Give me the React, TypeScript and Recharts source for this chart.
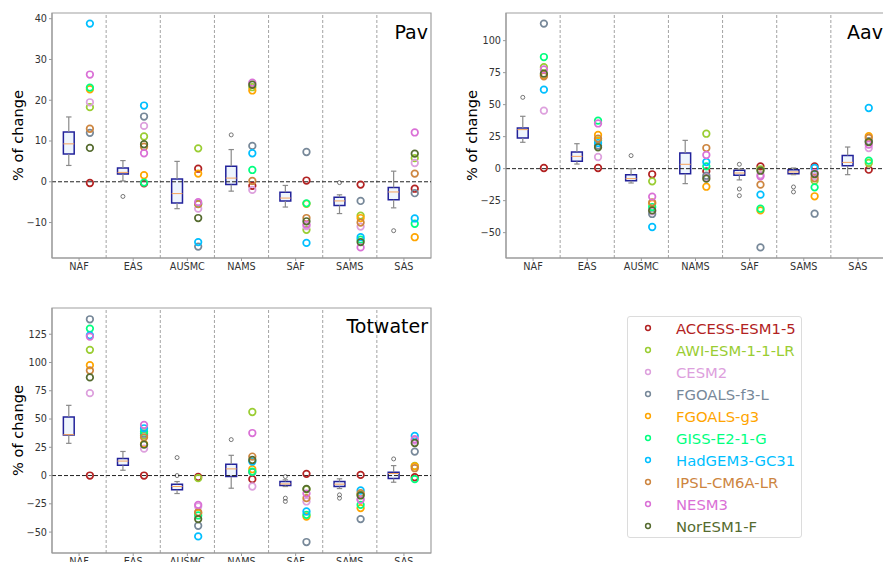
import React from 'react';
import { ComposedChart, Scatter, XAxis, YAxis, ReferenceLine, ReferenceArea, Legend } from 'recharts';

const regions = ['NAF', 'EAS', 'AUSMC', 'NAMS', 'SAF', 'SAMS', 'SAS'];
const models = [
  'ACCESS-ESM1-5', 'AWI-ESM-1-1-LR', 'CESM2', 'FGOALS-f3-L', 'FGOALS-g3',
  'GISS-E2-1-G', 'HadGEM3-GC31', 'IPSL-CM6A-LR', 'NESM3', 'NorESM1-F',
];
const modelColors = [
  '#b22222', '#9acd32', '#dda0dd', '#778899', '#ffa500',
  '#00ff7f', '#00bfff', '#cd853f', '#da70d6', '#556b2f',
];

// one row per model, one value per region
const pavValues = [
  [-0.3, -0.4, 3.2, -1.0, 0.3, -0.7, -1.7],
  [18.3, 11.1, 8.2, 23.2, -11.8, -8.3, 5.8],
  [19.5, 13.7, -6.6, -2.0, -10.9, -11.0, 4.6],
  [12.0, 16.0, -15.9, 8.8, 7.3, -4.7, -2.8],
  [22.7, 1.6, 2.0, 22.4, -5.4, -8.9, -13.6],
  [23.1, -0.2, -5.4, 2.9, -5.3, -14.2, -10.3],
  [38.8, 18.7, -14.8, 7.0, -15.0, -13.6, -9.0],
  [13.0, 8.6, -5.5, 0.2, -8.9, -10.0, 2.0],
  [26.3, 7.0, -5.0, 24.3, -10.5, -16.1, 12.1],
  [8.3, 9.2, -8.9, 23.8, -9.7, -14.8, 6.9],
];
const aavValues = [
  [0.5, 0.5, -4.4, -2.1, 1.8, 1.8, -0.8],
  [79.2, 22.0, -9.9, 27.3, -0.5, -9.4, 4.4],
  [45.3, 9.1, -33.3, -6.5, -5.0, -6.0, 16.1],
  [113.3, 18.0, -35.4, -5.5, -61.5, -35.2, 21.4],
  [73.0, 26.3, -27.3, -14.1, -32.6, -21.6, 25.3],
  [87.2, 37.5, -30.0, 1.8, -31.3, -14.6, 6.3],
  [61.7, 20.0, -45.6, 5.2, -20.3, 0.5, 47.4],
  [72.1, 23.5, -26.3, 16.1, -12.5, -7.5, 24.0],
  [77.5, 35.3, -21.9, 10.7, -6.0, -3.4, 18.8],
  [74.2, 16.7, -32.6, -7.8, -1.6, -4.2, 20.8],
];
const totValues = [
  [0.0, 0.0, -1.3, -3.2, 1.5, 0.6, -1.5],
  [111.2, 35.5, -2.3, 56.2, -12.2, -17.0, 8.5],
  [72.9, 23.8, -27.4, -9.7, -22.9, -21.0, 31.0],
  [138.2, 37.0, -44.4, 3.0, -58.8, -38.5, 21.2],
  [97.6, 28.0, -33.2, 5.6, -36.2, -28.8, 8.2],
  [130.0, 38.8, -35.3, 3.5, -34.7, -25.9, -3.2],
  [124.0, 41.8, -53.8, 12.4, -31.8, -13.2, 35.0],
  [92.9, 33.8, -32.4, 16.8, -20.0, -15.6, 6.5],
  [122.9, 44.7, -25.9, 37.6, -15.9, -21.5, 32.1],
  [86.8, 27.3, -38.5, 13.8, -11.8, -17.6, 28.8],
];

// box stats per region: [low whisker, q1, median, q3, high whisker]
const pavBoxes = [
  [4.0, 6.8, 9.3, 12.2, 15.9],
  [0.2, 1.9, 2.3, 3.4, 5.2],
  [-6.6, -5.2, -2.9, 0.7, 5.0],
  [-2.3, -0.7, 0.9, 3.8, 7.9],
  [-6.2, -4.7, -4.0, -2.6, -0.9],
  [-7.8, -5.8, -4.7, -3.8, -3.2],
  [-6.4, -4.4, -2.5, -1.4, 2.6],
];
const pavFliers = [[], [-3.6], [], [11.5], [], [-0.2], [-12.0]];

const aavBoxes = [
  [20.6, 24.0, 30.5, 31.8, 40.9],
  [3.6, 5.7, 9.6, 13.0, 19.5],
  [-11.2, -9.4, -7.8, -4.7, 0.0],
  [-11.7, -3.9, 3.4, 12.2, 22.1],
  [-8.8, -5.2, -3.4, -1.3, -0.3],
  [-4.7, -3.9, -2.6, -0.8, 0.5],
  [-4.7, 2.3, 4.9, 10.2, 16.9],
];
const aavFliers = [[55.7], [], [10.2], [], [3.4, -15.9, -21.1], [-14.3, -18.2], []];

const totBoxes = [
  [28.5, 35.9, 36.2, 51.8, 62.1],
  [4.7, 9.1, 12.8, 15.0, 21.3],
  [-15.9, -12.6, -9.7, -7.6, -5.3],
  [-11.2, -0.9, 5.9, 10.0, 17.9],
  [-9.7, -8.8, -7.4, -5.3, -3.8],
  [-11.5, -9.7, -7.6, -5.3, -2.9],
  [-5.9, -2.6, 1.8, 2.9, 8.8],
];
const totFliers = [[], [], [15.9, 0.0], [31.8], [-0.9, -20.0, -22.9], [-17.1, -20.0], [14.7]];

const pavTicks = [-10, 0, 10, 20, 30, 40];
const aavTicks = [-50, -25, 0, 25, 50, 75, 100];
const totTicks = [-50, -25, 0, 25, 50, 75, 100, 125];

const FONT = 'DejaVu Sans, sans-serif';
const BOX_X = -0.19;
const PT_X = 0.2;

const fmt = (v: number) => (v < 0 ? '\u2212' + Math.abs(v) : String(v));

const renderLegend = () => (
  <div style={{ position: 'relative', width: 175, height: 222, boxSizing: 'border-box', border: '1px solid #dcdcdc', borderRadius: 3, background: '#fff', fontFamily: FONT }}>
    {models.map((m, k) => (
      <div key={m} style={{ position: 'absolute', left: 0, top: k * 22, height: 22, display: 'flex', alignItems: 'center' }}>
        <svg width={40} height={22}>
          <circle cx={20} cy={11} r={2.4} fill="none" stroke={modelColors[k]} strokeWidth={1.5} />
        </svg>
        <span style={{ marginLeft: 8, color: modelColors[k], fontSize: 14.8, whiteSpace: 'nowrap' }}>{m}</span>
      </div>
    ))}
  </div>
);

type PanelProps = {
  values: number[][];
  boxes: number[][];
  fliers: number[][];
  domain: [number, number];
  ticks: number[];
  width: number;
  rightMargin: number;
  yWidth: number;
  labelOffset: number;
  withLegend?: boolean;
};

function Panel({ values, boxes, fliers, domain, ticks, width, rightMargin, yWidth, labelOffset, withLegend }: PanelProps) {
  const flierData = fliers.flatMap((list, i) => list.map((y) => ({ x: i + BOX_X, y })));
  return (
    <ComposedChart width={width} height={280} margin={{ top: 13, right: rightMargin, bottom: 0, left: 0 }} style={{ fontFamily: FONT }}>
      <XAxis
        type="number"
        dataKey="x"
        domain={[-0.5, 6.5]}
        ticks={[0, 1, 2, 3, 4, 5, 6]}
        interval={0}
        allowDataOverflow
        tickFormatter={(i: number) => regions[i]}
        height={22}
        tickSize={3}
        tickMargin={2}
        stroke="#999"
        tick={{ fontSize: 9.7, fill: '#333' }}
      />
      <YAxis
        type="number"
        dataKey="y"
        domain={domain}
        ticks={ticks}
        interval={0}
        allowDataOverflow
        width={yWidth}
        tickFormatter={fmt}
        tickSize={3}
        tickMargin={2}
        stroke="#999"
        tick={{ fontSize: 9.7, fill: '#333' }}
        label={{ value: '% of change', angle: -90, position: 'insideLeft', offset: labelOffset, style: { textAnchor: 'middle', fontSize: 14.6, fill: '#000' } }}
      />
      <ReferenceArea x1={-0.5} x2={6.5} y1={domain[0]} y2={domain[1]} fill="none" stroke="#a0a0a0" strokeWidth={1.2} />
      {[0.5, 1.5, 2.5, 3.5, 4.5, 5.5].map((x) => (
        <ReferenceLine key={'v' + x} x={x} stroke="#8c8c8c" strokeWidth={0.8} strokeDasharray="3 2" />
      ))}
      <ReferenceLine y={0} stroke="#222" strokeWidth={1} strokeDasharray="4 2" />
      {boxes.map((b, i) => {
        const bx = i + BOX_X;
        return (
          <React.Fragment key={'b' + i}>
            <ReferenceLine segment={[{ x: bx, y: b[0] }, { x: bx, y: b[1] }]} stroke="#8a8a8a" strokeWidth={1.2} />
            <ReferenceLine segment={[{ x: bx, y: b[3] }, { x: bx, y: b[4] }]} stroke="#8a8a8a" strokeWidth={1.2} />
            <ReferenceLine segment={[{ x: bx - 0.05, y: b[0] }, { x: bx + 0.05, y: b[0] }]} stroke="#8a8a8a" strokeWidth={1.2} />
            <ReferenceLine segment={[{ x: bx - 0.05, y: b[4] }, { x: bx + 0.05, y: b[4] }]} stroke="#8a8a8a" strokeWidth={1.2} />
            <ReferenceArea x1={bx - 0.1} x2={bx + 0.1} y1={b[1]} y2={b[3]} fill="#eef5fd" fillOpacity={1} stroke="#22229a" strokeWidth={1.5} />
            <ReferenceLine segment={[{ x: bx - 0.1, y: b[2] }, { x: bx + 0.1, y: b[2] }]} stroke="#f5a35c" strokeWidth={1} />
          </React.Fragment>
        );
      })}
      <Scatter
        data={flierData}
        isAnimationActive={false}
        legendType="none"
        shape={(p: any) => <circle cx={p.cx} cy={p.cy} r={2} fill="none" stroke="#555" strokeWidth={0.8} />}
      />
      {models.map((m, k) => (
        <Scatter
          key={m}
          name={m}
          data={regions.map((_, i) => ({ x: i + PT_X, y: values[k][i] }))}
          isAnimationActive={false}
          fill={modelColors[k]}
          shape={(p: any) => <circle cx={p.cx} cy={p.cy} r={3.3} fill="none" stroke={modelColors[k]} strokeWidth={1.7} />}
        />
      ))}
      {withLegend && (
        <Legend
          layout="vertical"
          align="center"
          verticalAlign="middle"
          content={renderLegend}
          wrapperStyle={{ left: 627, top: 21, width: 175, height: 222 }}
        />
      )}
    </ComposedChart>
  );
}

const titleStyle: React.CSSProperties = { position: 'absolute', fontSize: 19, lineHeight: '19px', color: '#000', fontFamily: FONT, whiteSpace: 'nowrap' };

export default function App() {
  return (
    <div style={{ position: 'absolute', left: 0, top: 0, width: 883, height: 562, overflow: 'hidden', background: '#fff', fontFamily: FONT }}>
      <div style={{ position: 'absolute', left: 0, top: 0 }}>
        <Panel values={pavValues} boxes={pavBoxes} fliers={pavFliers} domain={[-18.7, 41.4]} ticks={pavTicks} width={440} rightMargin={9} yWidth={52} labelOffset={18} />
      </div>
      <div style={{ position: 'absolute', left: 440, top: 0 }}>
        <Panel values={aavValues} boxes={aavBoxes} fliers={aavFliers} domain={[-69.8, 121.6]} ticks={aavTicks} width={445} rightMargin={0} yWidth={66} labelOffset={32} />
      </div>
      <div style={{ position: 'absolute', left: 0, top: 295 }}>
        <Panel values={totValues} boxes={totBoxes} fliers={totFliers} domain={[-68.5, 148.2]} ticks={totTicks} width={883} rightMargin={452} yWidth={52} labelOffset={18} withLegend />
      </div>
      <div style={{ ...titleStyle, right: 455, top: 23 }}>Pav</div>
      <div style={{ ...titleStyle, left: 847, top: 23 }}>Aav</div>
      <div style={{ ...titleStyle, right: 455, top: 317 }}>Totwater</div>
    </div>
  );
}
